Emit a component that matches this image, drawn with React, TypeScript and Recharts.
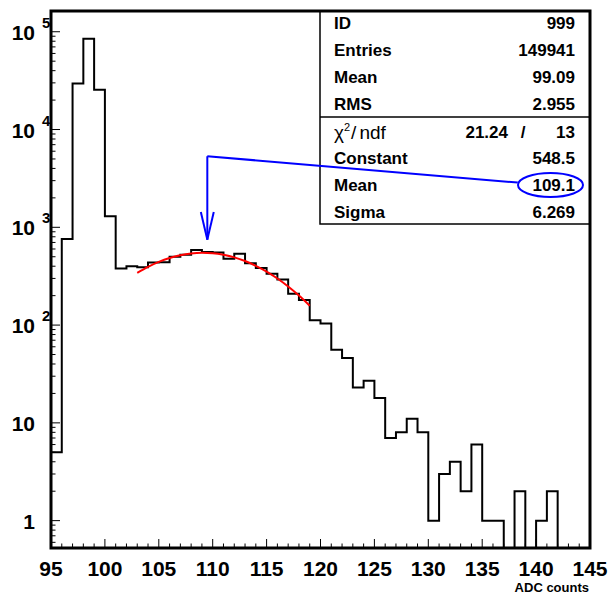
import { LineChart, Line, XAxis, YAxis, ReferenceArea, ReferenceLine } from 'recharts';

// ADC spectrum, one bin per count, first bin starts at 95
const firstBin = 95;
const binCounts = [
  5, 760, 29500, 85000, 25500, 1295, 379, 400, 390, 437,
  440, 500, 525, 585, 560, 553, 476, 538, 428, 383,
  334, 292, 209, 181, 112, 104, 56, 46, 23, 27,
  18, 7, 8, 11, 8, 1, 3, 4, 2, 6,
  1, 1, 0, 2, 0, 1, 2, 0, 0, 0,
];

// gaussian fit, sampled over 103..119
const fitX = [103, 104, 105, 106, 107, 108, 109, 110, 111, 112, 113, 114, 115, 116, 117, 118, 119];
const fitY = [341.7, 394.0, 442.9, 485.4, 518.5, 540.1, 548.4, 542.9, 523.9, 492.8, 452.0, 404.1, 352.2, 299.3, 247.9, 200.2, 157.6];

const statLabels = ['ID', 'Entries', 'Mean', 'RMS'];
const statValues = ['999', '149941', '99.09', '2.955'];
const fitLabels = ['Constant', 'Mean', 'Sigma'];
const fitValues = ['548.5', '109.1', '6.269'];
const chi2 = '21.24';
const ndf = '13';

const xMin = 95;
const xMax = 145;
const yMin = 0.525;
const yMax = 163000;
const emptyFloor = 0.1; // empty bins fall below the frame and get clipped

const xTicks = Array.from({ length: xMax - xMin + 1 }, (_, i) => xMin + i);
const yTicks = [0.6, 0.7, 0.8, 0.9];
[1, 10, 100, 1000, 10000].forEach((d) => {
  for (let m = 1; m <= 9; m++) yTicks.push(m * d);
});
yTicks.push(100000);

// arrow from the fit mean label down to the peak
const arrowTop = { x: 109.5, y: 5330 };
const arrowTip = { x: 109.5, y: 748 };
const arrowWings = [{ x: 108.9, y: 1437 }, { x: 110.1, y: 1437 }];
const labelAnchor = { x: 138.3, y: 2866 };

const histData = binCounts.map((c, i) => ({ x: firstBin + i, y: c > 0 ? c : emptyFloor }));
histData.push({ x: firstBin + binCounts.length, y: histData[histData.length - 1].y });
const fitData = fitX.map((x, i) => ({ x, y: fitY[i] }));

const font = '"Liberation Sans", Arial, Helvetica, sans-serif';

function XTick({ x, y, payload }: any) {
  const v = payload.value;
  const major = v % 5 === 0;
  return (
    <g>
      <line x1={x} y1={y} x2={x} y2={y - (major ? 9 : 4.5)} stroke="#000" strokeWidth={1} />
      {major && (
        <text x={x} y={y + 28} textAnchor="middle" fontSize={21} fontWeight="bold" fontFamily={font} fill="#000">
          {v}
        </text>
      )}
    </g>
  );
}

function YTick({ x, y, payload }: any) {
  const v = payload.value;
  const e = Math.log10(v);
  const major = Math.abs(e - Math.round(e)) < 1e-6;
  const p = Math.round(e);
  return (
    <g>
      <line x1={x} y1={y} x2={x + (major ? 9 : 4.5)} y2={y} stroke="#000" strokeWidth={1} />
      {major && (
        <text x={35} y={y + 8} textAnchor="end" fontSize={21} fontWeight="bold" fontFamily={font} fill="#000">
          {p === 0 ? '1' : '10'}
        </text>
      )}
      {major && p >= 2 && (
        <text x={42} y={y - 4} fontSize={15} fontWeight="bold" fontFamily={font} fill="#000">
          {p}
        </text>
      )}
    </g>
  );
}

function StatBox() {
  const left = 334;
  const right = 575;
  return (
    <svg width={611} height={594} style={{ position: 'absolute', left: 0, top: 0 }}>
      <rect x={320} y={11} width={270} height={213} fill="#fff" stroke="#000" strokeWidth={1.5} />
      <line x1={320} y1={117} x2={590} y2={117} stroke="#000" strokeWidth={1.5} />
      <g fontFamily={font} fontWeight="bold" fontSize={17} fill="#000">
        {statLabels.map((s, i) => (
          <g key={s}>
            <text x={left} y={29 + i * 27}>{s}</text>
            <text x={right} y={29 + i * 27} textAnchor="end">{statValues[i]}</text>
          </g>
        ))}
        <text x={508} y={138} textAnchor="end">{chi2}</text>
        <text x={523} y={138} textAnchor="middle">/</text>
        <text x={right} y={138} textAnchor="end">{ndf}</text>
        {fitLabels.map((s, i) => (
          <g key={s + i}>
            <text x={left} y={164 + i * 27}>{s}</text>
            <text x={right} y={164 + i * 27} textAnchor="end">{fitValues[i]}</text>
          </g>
        ))}
      </g>
      <text x={left} y={139} fontFamily={font} fontSize={19} fontWeight={300} fill="#000">
        χ<tspan dy={-8} fontSize={11}>2</tspan>
        <tspan dy={8} dx={1}>/</tspan>
        <tspan dx={3}>ndf</tspan>
      </text>
      <ellipse cx={550.5} cy={185} rx={32.5} ry={12} fill="none" stroke="#0000ff" strokeWidth={2} />
    </svg>
  );
}

export default function App() {
  return (
    <div style={{ position: 'absolute', left: 0, top: 0, width: 611, height: 594, background: '#fff' }}>
      <StatBox />
      <div style={{ position: 'absolute', left: 0, top: 0 }}>
        <LineChart width={611} height={594} margin={{ top: 11, right: 21, bottom: 0, left: 0 }}>
          <XAxis
            dataKey="x"
            type="number"
            domain={[xMin, xMax]}
            ticks={xTicks}
            interval={0}
            height={46}
            axisLine={false}
            tickLine={false}
            tickSize={0}
            tickMargin={0}
            tick={<XTick />}
            allowDataOverflow
          />
          <YAxis
            dataKey="y"
            type="number"
            scale="log"
            domain={[yMin, yMax]}
            ticks={yTicks}
            interval={0}
            width={51}
            axisLine={false}
            tickLine={false}
            tickSize={0}
            tickMargin={0}
            tick={<YTick />}
            allowDataOverflow
          />
          <ReferenceArea x1={xMin} x2={xMax} y1={yMin} y2={yMax} fill="none" stroke="#000" strokeWidth={3} />
          <Line
            data={histData}
            dataKey="y"
            type="stepAfter"
            stroke="#000"
            strokeWidth={2}
            dot={false}
            isAnimationActive={false}
          />
          <Line
            data={fitData}
            dataKey="y"
            type="monotone"
            stroke="#ff0000"
            strokeWidth={2}
            dot={false}
            isAnimationActive={false}
          />
          <ReferenceLine segment={[labelAnchor, arrowTop]} stroke="#0000ff" strokeWidth={2} />
          <ReferenceLine segment={[arrowTop, arrowTip]} stroke="#0000ff" strokeWidth={2} />
          <ReferenceLine segment={[arrowWings[0], arrowTip]} stroke="#0000ff" strokeWidth={2} />
          <ReferenceLine segment={[arrowWings[1], arrowTip]} stroke="#0000ff" strokeWidth={2} />
        </LineChart>
      </div>
      <div
        style={{
          position: 'absolute',
          right: 22,
          top: 581,
          fontFamily: font,
          fontWeight: 'bold',
          fontSize: 13,
          lineHeight: '13px',
        }}
      >
        ADC counts
      </div>
    </div>
  );
}
